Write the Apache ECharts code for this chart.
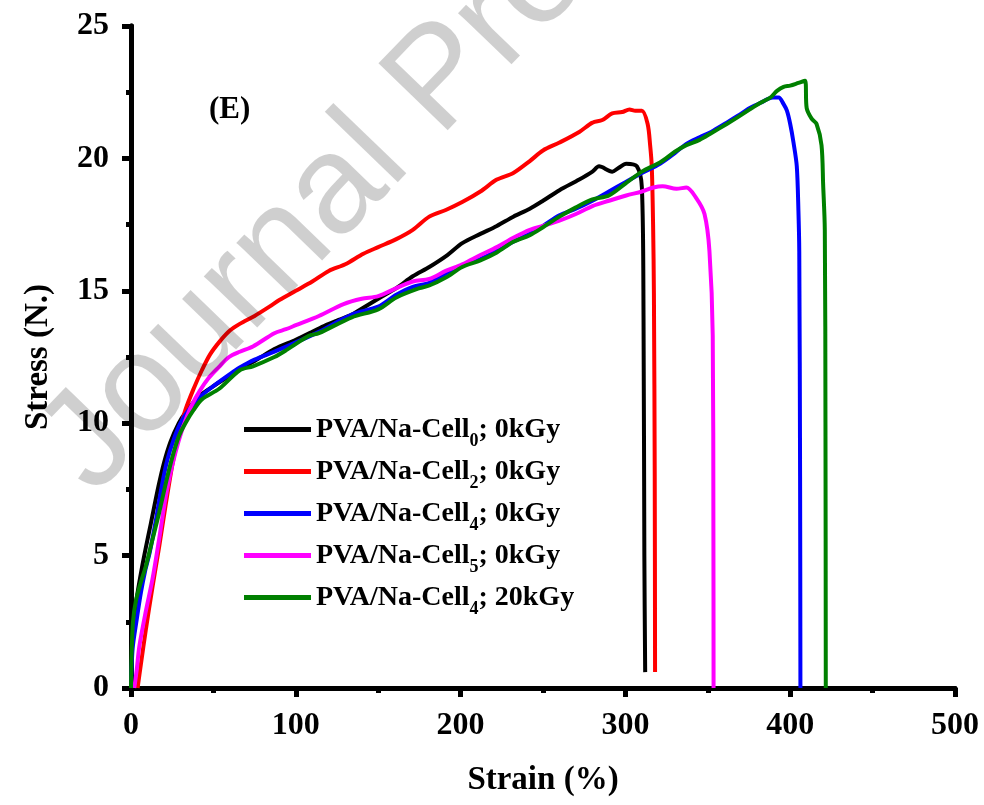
<!DOCTYPE html>
<html>
<head>
<meta charset="utf-8">
<script src="https://cdn.jsdelivr.net/npm/echarts@6/dist/echarts.min.js"></script>
<style>
html,body{margin:0;padding:0;background:#fff;}
#chart{width:984px;height:805px;}
</style>
</head>
<body>
<div id="chart"></div>
<script>
// ---- Data ----
const cell0Strain = [0,0.5,1.8,4,6.5,9,12,16.6,20,24,29,33,41,50,60,66,75,87,100,110,118,126,134,142,150,161,171,181,192,201,212,222,232,242,250,260,272,280,284,292,296,300.5,307,310,311,311.5,312];
const cell0Stress = [0,1.5,2.6,3.6,4.5,5.3,6.2,7.6,8.5,9.3,10.0,10.4,11.0,11.4,11.8,12.05,12.35,12.8,13.15,13.45,13.7,13.9,14.1,14.4,14.7,15.1,15.55,15.9,16.35,16.8,17.15,17.45,17.8,18.1,18.4,18.8,19.2,19.5,19.7,19.5,19.65,19.8,19.7,18.9,14.0,5.0,0.6];

const cell2Strain = [4,6,9,13,17,21,25,29,33,38,43,48,54,60,66,75,84,90,100,110,120,130,141,150,161,171,181,191,201,212,222,232,242,250,260,272,280,286,292,298,302.5,306,310,313.5,315,316,316.8,317.3,317.8,318];
const cell2Stress = [0,0.9,2.2,3.8,5.3,6.9,8.4,9.6,10.5,11.3,12.0,12.6,13.1,13.5,13.75,14.05,14.4,14.65,15.0,15.35,15.75,16.0,16.4,16.65,16.95,17.3,17.8,18.05,18.35,18.75,19.2,19.45,19.9,20.3,20.6,21.0,21.35,21.45,21.7,21.75,21.85,21.8,21.8,21.3,20.5,19.7,17.5,14.9,8.0,0.6];

const cell4Strain = [0,1,3.5,6,8.5,11.3,15,18.6,22,26,30,35,42,50,60,66,75,87,100,114,134,150,161,171,181,191,201,212,222,232,242,250,260,270,280,290,300,310,321,330,337,345,352,361.5,368,375.5,382,389.5,393,396,398,400,402,404,405,405.5,406,406.2];
const cell4Stress = [0,1.5,2.6,3.6,4.4,5.1,6.3,7.6,8.6,9.4,10.0,10.5,11.0,11.4,11.85,12.1,12.4,12.7,13.05,13.45,14.1,14.4,14.85,15.15,15.3,15.65,15.95,16.2,16.5,16.85,17.15,17.45,17.85,18.1,18.4,18.75,19.1,19.45,19.8,20.2,20.55,20.8,21.0,21.35,21.6,21.9,22.1,22.3,22.3,22.05,21.8,21.3,20.6,19.7,18.0,16.5,8.0,0];

const cell5Strain = [2,3.5,5,9,13,17,21,25,29,33,37,42,47,53,59.5,66,74,87,94,100,114,129,140,150,161,171,181,191,201,212,222,232,242,250,260,270,280,290,300.5,310,317,322.6,331,337,343,348,351,353,353.4,353.5];
const cell5Stress = [0,0.7,1.55,2.9,4.1,5.6,7.2,8.4,9.35,10.1,10.7,11.25,11.7,12.1,12.5,12.7,12.9,13.4,13.55,13.7,14.05,14.5,14.7,14.8,15.1,15.35,15.45,15.75,16.0,16.35,16.65,17.0,17.3,17.45,17.65,17.9,18.2,18.4,18.6,18.75,18.9,18.95,18.85,18.9,18.5,17.9,16.5,13.3,6.0,0];

const cell4IrrStrain = [0,0.4,1.2,3,6,9,13,17,21,25,29,33,38,43,53.5,66,74,87,94,108,114,134,150,161,175,181,191,201,212,222,232,242,250,260,270,280,290,300,310,321,330,337,345,352,361.5,368,375.5,382,388,392,396,400,405,409,410,413,416,419,420,421,421.4,421.6];
const cell4IrrStress = [0,1.3,2.5,3.3,4.0,4.6,5.6,6.6,7.7,8.7,9.5,10.0,10.5,10.9,11.3,12.0,12.15,12.5,12.75,13.3,13.4,14.0,14.3,14.75,15.1,15.2,15.5,15.9,16.15,16.45,16.85,17.1,17.4,17.8,18.15,18.45,18.6,19.05,19.5,19.85,20.25,20.5,20.7,20.95,21.3,21.55,21.85,22.1,22.3,22.55,22.7,22.75,22.85,22.93,21.9,21.5,21.3,20.5,19.0,17.3,10.0,0];

const legendBase = 'PVA/Na-Cell';
const legendSubs = ['0','2','4','5','4'];
const legendDoses = ['0kGy','0kGy','0kGy','0kGy','20kGy'];
const seriesColors = ['#000000','#ff0000','#0000ff','#ff00ff','#008000'];
const xTicks = [0,100,200,300,400,500];
const yTicks = [0,5,10,15,20,25];
const panelLabel = '(E)';
const watermarkText = 'Journal Pre-proof';

// ---- Build ----
const strains = [cell0Strain, cell2Strain, cell4Strain, cell5Strain, cell4IrrStrain];
const stresses = [cell0Stress, cell2Stress, cell4Stress, cell5Stress, cell4IrrStress];
const names = legendSubs.map((s,i)=> legendBase + s + '; ' + legendDoses[i]);
const nameMap = {};
names.forEach((n,i)=>{ nameMap[n] = '{b|' + legendBase + '}{sub|' + legendSubs[i] + '}{b|; ' + legendDoses[i] + '}'; });

const serif = '"Liberation Serif", "Times New Roman", serif';

const series = names.map((n,i)=>({
  name: n,
  type: 'line',
  showSymbol: false,
  smooth: 0.3,
  data: strains[i].map((x,j)=>[x, stresses[i][j]]),
  lineStyle: {color: seriesColors[i], width: 4},
  itemStyle: {color: seriesColors[i]},
  z: 3 + (i===4 ? 1 : 0),
  animation: false
}));

const chart = echarts.init(document.getElementById('chart'), null, {renderer:'canvas'});
chart.setOption({
  animation: false,
  backgroundColor: '#ffffff',
  grid: {left: 131, right: 29, top: 26, bottom: 117, containLabel: false},
  xAxis: [{
    type: 'value', min: xTicks[0], max: xTicks[xTicks.length-1], interval: 100,
    name: 'Strain (%)', nameLocation: 'middle', nameGap: 76,
    nameTextStyle: {fontFamily: serif, fontWeight: 'bold', fontSize: 33, color: '#000'},
    axisLine: {show: true, lineStyle: {color: '#000', width: 5}},
    axisTick: {show: true, length: 9, lineStyle: {color: '#000', width: 5}},
    minorTick: {show: true, splitNumber: 2, length: 5, lineStyle: {color: '#000', width: 5}},
    axisLabel: {fontFamily: serif, fontWeight: 'bold', fontSize: 32, color: '#000', margin: 22},
    splitLine: {show: false}
  },{
    type: 'value', position: 'top', min: 0, max: 500,
    axisLine: {show: true, lineStyle: {color: '#000', width: 5}},
    axisTick: {show: false}, axisLabel: {show: false}, splitLine: {show: false}
  }],
  yAxis: [{
    type: 'value', min: yTicks[0], max: yTicks[yTicks.length-1], interval: 5,
    name: 'Stress (N.)', nameLocation: 'middle', nameGap: 76, nameRotate: 90,
    nameTextStyle: {fontFamily: serif, fontWeight: 'bold', fontSize: 33, color: '#000'},
    axisLine: {show: true, lineStyle: {color: '#000', width: 5}},
    axisTick: {show: true, length: 9, lineStyle: {color: '#000', width: 5}},
    minorTick: {show: true, splitNumber: 2, length: 5, lineStyle: {color: '#000', width: 5}},
    axisLabel: {fontFamily: serif, fontWeight: 'bold', fontSize: 32, color: '#000', margin: 22},
    splitLine: {show: false}
  },{
    type: 'value', position: 'right', min: 0, max: 25,
    axisLine: {show: true, lineStyle: {color: '#000', width: 5}},
    axisTick: {show: false}, axisLabel: {show: false}, splitLine: {show: false}
  }],
  legend: {
    orient: 'vertical', left: 239, top: 408,
    icon: 'rect', itemWidth: 67, itemHeight: 5, itemGap: 5,
    data: names,
    formatter: n => nameMap[n],
    textStyle: {
      rich: {
        b: {fontFamily: serif, fontWeight: 'bold', fontSize: 28, color: '#000', lineHeight: 33, verticalAlign: 'middle'},
        sub: {fontFamily: serif, fontWeight: 'bold', fontSize: 18, color: '#000', verticalAlign: 'top', lineHeight: 17, padding: [19,0,0,0]}
      }
    }
  },
  graphic: [
    {type: 'text', left: 209, top: 94, z: 10,
     style: {text: panelLabel, font: 'bold 31px ' + serif, fill: '#000'}},
    {type: 'text', x: 66, y: 470, rotation: 46*Math.PI/180, z: 100, silent: true,
     style: {text: watermarkText, font: '140px "Liberation Sans", Arial, sans-serif', fill: 'rgba(0,0,0,0.19)', textAlign: 'left', textVerticalAlign: 'middle'}}
  ],
  series: series
});
</script>
</body>
</html>
